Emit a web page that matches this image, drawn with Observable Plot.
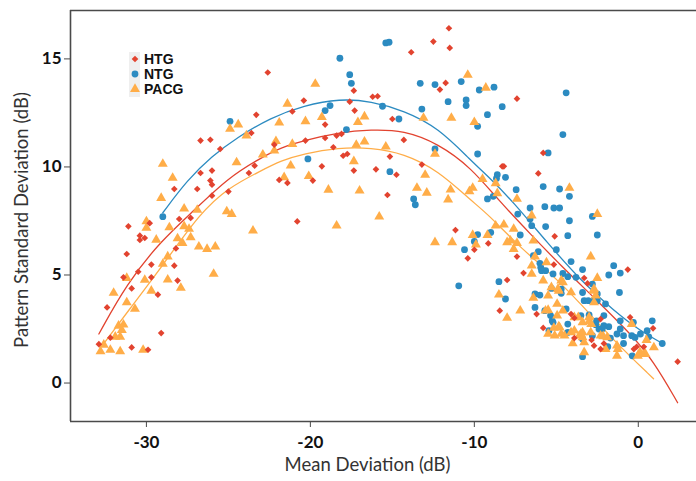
<!DOCTYPE html>
<html>
<head>
<meta charset="utf-8">
<script src="https://cdn.jsdelivr.net/npm/d3@7"></script>
<script src="https://cdn.jsdelivr.net/npm/@observablehq/plot@0.6"></script>
<style>
  html, body { margin: 0; padding: 0; background: #fff; }
  #wrap { position: relative; width: 696px; height: 481px; overflow: hidden; }
  #chart svg { display: block; }
  #chart [aria-label="x-axis tick label"] text,
  #chart [aria-label="y-axis tick label"] text { font-weight: bold; fill: #111; }
  #legend { position: absolute; left: 129px; top: 52px; font-family: "Liberation Sans", Arial, sans-serif;
            font-weight: bold; font-size: 14px; color: #111; }
  #legend .bg { position: absolute; left: 0; top: 0; width: 11px; height: 45px; background: #efefef; }
  #legend .row { position: relative; height: 14.8px; line-height: 14.8px; white-space: nowrap; }
  #legend svg { position: absolute; left: 0; top: 1px; }
  #legend span { position: absolute; left: 15px; top: 0; }
</style>
</head>
<body>
<div id="wrap">
  <div id="chart"></div>
  <div id="legend"></div>
</div>
<script>
// ---- Data ----
const groups = ["HTG", "NTG", "PACG"];
const groupColors = ["#e2432f", "#2c8bc1", "#ffad48"];

const htgMD = [-22.6,-23.3,-23.6,-26.7,-26.1,-25.5,-28.3,-26.7,-26.0,-26.1,-26.0,-26.9,-26.0,-25.0,-23.4,-23.75,-21.9,
  -28.0,-27.3,-31.1,-29.8,-30.4,-30.4,-30.1,-28.2,-31.2,-30.5,-29.7,-28.3,-31.4,-29.7,-28.1,-30.9,-29.3,-32.4,-32.2,-29.1,-32.9,-30.9,-29.9,
  -11.55,-12.5,-11.5,-13.85,-17.35,-20.4,-21.1,-17.6,-17.3,-16.2,-15.9,-19.1,-15.0,-18.4,-18.1,-19.1,-20.3,-22.2,-18.6,-14.3,-18.0,-17.75,-15.15,
  -19.3,-17.35,-16.0,-14.75,-13.2,-21.4,-19.85,-15.3,-12.1,-11.75,-7.4,-5.8,-8.3,-8.2,-6.1,-11.15,-10.0,-9.15,-10.4,-20.8,
  -5.1,-7.4,-0.64,-5.15,-7.0,-3.3,-8.0,-3.1,-8.45,-6.2,-4.1,-2.3,-0.5,-5.8,0.9,-3.9,-2.7,-2.1,-2.3,-0.1,0.34,2.4,-3.9,-2.85,-0.27];
const htgPSD = [14.37,12.41,11.57,11.22,11.26,10.83,8.98,9.72,9.83,9.37,9.18,8.98,8.67,8.86,10.06,9.72,9.40,
  7.59,7.64,7.25,7.40,6.82,6.62,6.71,6.23,5.97,5.15,5.48,5.43,4.89,4.89,4.74,4.38,4.09,3.50,2.10,2.31,1.80,1.65,1.54,
  16.42,15.80,15.51,15.31,13.53,13.07,12.57,13.02,12.61,13.25,13.27,11.96,12.22,11.45,11.53,11.34,11.22,11.03,10.91,11.25,10.52,10.60,10.48,
  10.03,9.83,9.89,9.64,10.11,9.26,9.37,8.70,13.58,13.89,13.16,10.65,10.03,10.03,9.70,7.08,6.17,6.46,5.77,7.48,
  6.79,5.85,5.25,5.48,5.09,4.86,4.77,4.61,3.35,3.19,3.19,2.96,3.04,2.55,2.53,2.08,1.73,1.83,1.57,1.68,1.68,0.99,3.01,1.99,1.57];

const ntgMD = [-24.9,-29.0,-15.4,-15.2,-18.2,-17.6,-17.5,-18.8,-19.1,-15.6,-14.6,-17.8,-20.15,-15.15,-12.4,-13.7,-13.6,-9.2,
  -13.3,-12.4,-10.8,-9.7,-11.6,-10.5,-10.5,-13.2,-9.8,-9.2,-9.8,-8.8,-4.4,-8.3,-4.6,-5.5,-8.6,-8.65,-8.1,-7.45,-5.8,-4.8,-4.2,-8.85,
  -6.6,-5.7,-5.15,-4.8,-7.35,-7.2,-9.8,-10.0,-10.6,-10.95,-2.8,-6.6,-6.5,-5.65,-4.2,-9.0,-4.3,-2.5,-5.0,-6.4,-6.1,-4.1,-1.5,-1.8,-1.1,
  -6.0,-5.9,-5.65,-5.2,-4.6,-4.3,-3.8,-3.4,-8.5,-5.3,-4.7,-3.4,-2.5,-1.15,-6.3,-6.0,-8.1,-4.7,-3.3,-3.05,-2.7,-2.0,-6.3,-5.7,-4.4,
  -5.35,-3.5,-3.0,-2.1,0.85,-2.6,-5.2,-4.3,-2.4,-1.8,-1.1,-1.1,-2.8,-1.7,-1.3,-0.9,-0.4,-0.2,0.13,0.54,1.46,-0.9,-0.37,-3.4,
  -5.95,-2.8,-2.5,-5.25,-2.55,-2.1,-5.45,-4.3,-3.4,-1.86,-0.3,0.64,-2.2];
const ntgPSD = [12.11,7.70,15.74,15.77,15.03,14.27,13.87,12.84,12.61,12.81,12.22,11.73,10.37,9.78,10.83,8.52,8.25,8.52,
  13.87,13.81,13.95,13.56,13.02,13.10,12.84,12.68,11.88,12.42,10.60,13.69,13.43,12.79,11.50,10.65,9.64,9.47,9.52,8.95,9.09,8.98,8.64,8.64,
  8.10,8.16,8.10,8.10,7.82,6.85,6.87,6.55,6.17,4.50,7.71,7.59,7.28,7.24,7.51,6.97,6.82,6.85,6.17,5.89,6.08,5.62,5.43,5.00,5.09,
  5.54,5.20,5.20,5.05,5.07,4.92,4.89,5.25,4.69,4.38,4.35,4.19,4.12,4.19,4.12,4.07,3.89,4.15,3.81,3.81,3.84,3.66,3.50,3.35,3.43,
  3.12,3.12,3.15,3.12,2.88,2.70,2.81,2.73,2.50,2.61,2.88,2.50,2.19,2.08,2.27,2.19,2.19,2.11,2.27,2.42,1.83,1.83,1.26,1.22,
  5.35,4.58,3.81,2.88,2.88,2.65,2.42,2.34,2.04,1.68,2.81,2.14,2.50];

const pacgMD = [-24.9,-24.4,-23.9,-29.0,-28.4,-29.1,-24.5,-22.9,-22.2,-22.1,-21.9,-27.7,-26.9,-25.1,-24.8,-23.5,-30.0,-30.0,-29.4,-28.6,
  -27.7,-27.4,-28.1,-27.8,-27.3,-26.8,-26.3,-25.8,-25.9,-29.0,-28.7,-31.2,-30.1,-28.7,-27.9,-32.0,-29.7,-31.2,-30.7,-31.7,-31.4,-31.5,
  -31.9,-31.6,-32.6,-32.8,-32.2,-31.6,-30.2,-19.7,-21.4,-20.3,-19.3,-17.1,-16.7,-21.1,-17.2,-16.7,-15.4,-21.2,-17.35,-13.0,-12.4,
  -21.6,-20.1,-18.9,-17.0,-13.5,-12.9,-11.45,-11.6,-10.3,-10.1,-9.5,-10.4,-9.3,-13.1,-11.4,-10.0,-18.4,-15.8,-12.4,-11.35,-10.1,-9.9,
  -9.2,-7.8,-8.7,-8.6,-4.2,-7.4,-2.5,-6.5,-8.7,-8.2,-7.6,-8.0,-7.4,-7.6,-6.4,-6.3,-5.6,-2.9,-6.5,-6.5,-4.7,-2.5,-5.8,-4.9,-4.1,-2.7,
  -2.6,-8.5,-6.4,-5.5,-2.7,-4.95,-7.2,-5.5,-4.6,-4.95,-8.0,-3.9,-3.4,-3.0,-4.85,-0.4,-5.5,-5.1,-4.7,-4.1,-3.5,-3.4,-2.9,-2.3,-4.0,
  -2.0,-1.3,-1.25,0.1,0.44,0.95,-1.3,-3.3,-4.6,-5.3,-4.85,-2.7,-5.66,-3.66,-3.0,-2.87,-5.15,-4.8,-4.5,-3.9,-3.6,-3.4,-1.9,-3.3,
  0.5,0.34,-0.03,-2.14];
const pacgPSD = [11.76,11.96,11.45,10.14,9.49,8.56,10.21,10.57,10.75,11.19,12.05,8.07,8.01,7.94,7.82,7.05,7.48,7.18,6.63,7.20,
  7.25,7.13,6.69,6.48,6.74,6.31,6.20,6.31,5.05,5.51,5.85,4.86,4.77,4.78,4.40,4.17,4.27,3.73,3.43,2.65,2.70,2.45,
  2.14,2.14,1.77,1.46,1.53,1.46,1.53,13.84,12.92,12.11,12.30,12.07,12.33,11.06,11.02,11.17,10.94,10.06,10.26,9.63,10.60,
  9.52,9.57,8.94,8.90,9.03,8.80,8.95,8.49,8.87,9.03,9.44,14.26,13.66,12.27,12.27,12.07,7.28,7.70,6.51,6.51,6.85,6.40,
  6.85,6.59,9.24,8.78,9.03,8.52,7.82,7.75,7.28,7.33,7.13,6.51,6.48,6.20,6.59,5.85,5.58,5.85,5.43,5.05,4.74,4.86,4.74,4.35,4.19,4.27,
  4.04,4.09,3.94,4.04,3.73,3.66,3.35,3.38,3.35,3.12,3.01,3.04,2.81,2.85,2.62,2.73,2.27,2.19,2.27,2.34,2.27,2.11,2.34,2.19,1.83,
  1.57,1.73,1.57,1.42,1.34,1.65,1.26,1.42,4.66,4.43,4.27,4.35,3.35,3.04,3.04,2.73,2.55,2.57,2.19,2.42,2.19,2.34,2.11,1.88,
  1.99,1.37,1.26,2.16];

// Fitted trend curves
const htgFitMD  = [-32.9,-31.2,-29.1,-27.1,-25.0,-23.0,-21.8,-20.4,-18.3,-16.3,-14.3,-12.2,-10.2,-8.5,-6.6,-4.6,-2.5,-0.48,0.93,2.4];
const htgFitPSD = [2.27,4.60,6.59,7.98,9.51,10.43,10.89,11.22,11.59,11.73,11.69,11.08,9.97,8.44,6.91,5.34,3.81,2.28,1.03,-0.91];
const ntgFitMD  = [-29.0,-27.5,-26.0,-24.5,-22.4,-20.4,-18.2,-16.3,-14.3,-12.2,-10.2,-9.0,-7.7,-5.5,-3.5,-1.5,0.1,1.5];
const ntgFitPSD = [7.88,9.4,10.5,11.35,12.29,12.84,13.16,13.04,12.61,11.82,10.29,9.45,8.44,6.45,4.74,3.35,2.42,1.82];
const pacgFitMD  = [-32.6,-31.1,-29.1,-26.7,-25.0,-23.0,-21.8,-20.4,-18.3,-16.3,-14.3,-12.2,-10.2,-9.2,-7.2,-5.5,-3.5,-1.5,0.93];
const pacgFitPSD = [1.82,3.35,5.34,7.90,9.04,9.83,10.29,10.62,10.89,10.89,10.62,9.83,8.44,7.84,6.26,5.20,3.67,1.96,0.20];

const xTicks = [-30, -20, -10, 0];
const yTicks = [0, 5, 10, 15];
const xDomain = [-34.63, 3.55];
const yDomain = [-1.78, 17.24];
const xTitle = "Mean Deviation (dB)";
const yTitle = "Pattern Standard Deviation (dB)";

// ---- Build tables ----
const pts = (mds, psds) => mds.map((x, i) => ({x, y: psds[i]}));
const htg = pts(htgMD, htgPSD), ntg = pts(ntgMD, ntgPSD), pacg = pts(pacgMD, pacgPSD);
const htgFit = pts(htgFitMD, htgFitPSD), ntgFit = pts(ntgFitMD, ntgFitPSD), pacgFit = pts(pacgFitMD, pacgFitPSD);

const [cR, cB, cO] = groupColors;
const axisColor = "#4a4a4a";

const chart = Plot.plot({
  width: 696,
  height: 481,
  marginLeft: 70,
  marginRight: 0,
  marginTop: 10,
  marginBottom: 60,
  style: {fontFamily: "Lato, 'Open Sans', sans-serif", fontSize: "17px", color: axisColor, background: "#fff"},
  x: {domain: xDomain},
  y: {domain: yDomain},
  marks: [
    Plot.line(pacgFit, {x: "x", y: "y", stroke: cO, strokeWidth: 1.3, curve: "basis"}),
    Plot.line(htgFit, {x: "x", y: "y", stroke: cR, strokeWidth: 1.3, curve: "basis"}),
    Plot.line(ntgFit, {x: "x", y: "y", stroke: cB, strokeWidth: 1.3, curve: "basis"}),
    Plot.dot(ntg, {x: "x", y: "y", symbol: "circle", r: 3.4, fill: cB}),
    Plot.dot(pacg, {x: "x", y: "y", symbol: "triangle", r: 3.7, fill: cO}),
    Plot.dot(htg, {x: "x", y: "y", symbol: "diamond2", r: 3, fill: cR}),
    Plot.ruleY([yDomain[1]], {stroke: axisColor, strokeWidth: 1.6}),
    Plot.ruleY([yDomain[0]], {stroke: axisColor, strokeWidth: 1.6}),
    Plot.ruleX([xDomain[0]], {stroke: axisColor, strokeWidth: 1.6}),
    Plot.axisX({ticks: xTicks, tickSize: 6, tickPadding: 8, label: null, tickFormat: d => String(d).replace("−", "-")}),
    Plot.axisY({ticks: yTicks, tickSize: 6, tickPadding: 3, label: null}),
    Plot.text([xTitle], {frameAnchor: "bottom", dy: 49, dx: -16, text: d => d, fontSize: 18.5, fill: "#333", fontFamily: "Lato, sans-serif"}),
    Plot.text([yTitle], {frameAnchor: "left", textAnchor: "middle", dx: -48, dy: 4, rotate: -90, text: d => d, fontSize: 18.5, fill: "#333", fontFamily: "Lato, sans-serif"})
  ]
});
document.getElementById("chart").appendChild(chart);

// ---- Legend (inside the plot area) ----
const legend = document.getElementById("legend");
legend.innerHTML = '<div class="bg"></div>';
const symbolFor = ["diamond2", "circle", "triangle"];
groups.forEach((g, i) => {
  const row = document.createElement("div");
  row.className = "row";
  const sym = symbolFor[i] === "circle" ? d3.symbolCircle : symbolFor[i] === "triangle" ? d3.symbolTriangle : d3.symbolDiamond2;
  const size = [3, 3.4, 3.7][i];
  const path = d3.symbol(sym, Math.PI * size * size)();
  row.innerHTML = `<svg width="12" height="12" viewBox="-6 -6 12 12"><path d="${path}" fill="${groupColors[i]}"/></svg><span>${g}</span>`;
  legend.appendChild(row);
});
</script>
</body>
</html>
